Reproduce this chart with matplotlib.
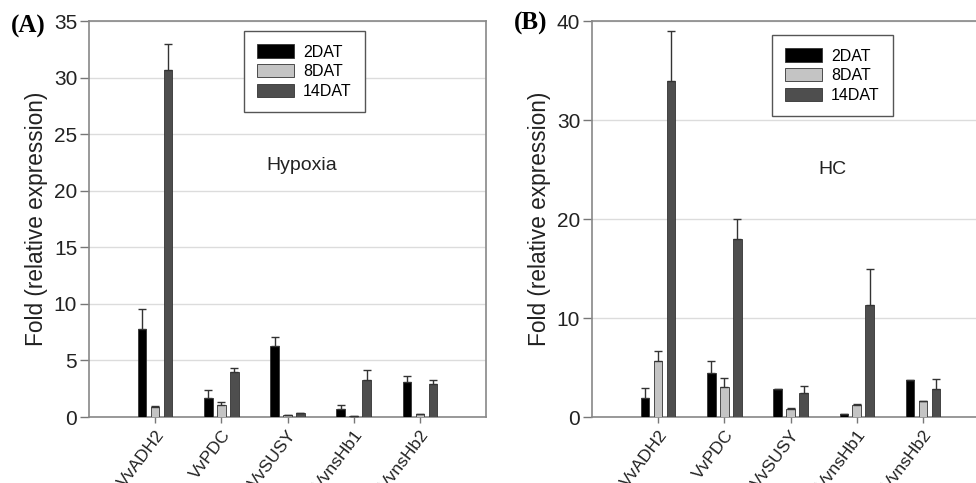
import matplotlib
matplotlib.use("Agg")
import matplotlib.pyplot as plt
import numpy as np

plt.rcParams["font.family"] = ["Liberation Sans", "DejaVu Sans"]

genes = ["VvADH2", "VvPDC", "VvSUSY", "VvnsHb1", "VvnsHb2"]
series = ["2DAT", "8DAT", "14DAT"]

# Panel A: Hypoxia
hyp_2 = [7.75, 1.65, 6.3, 0.75, 3.1]
hyp_2_err = [1.8, 0.75, 0.75, 0.35, 0.5]
hyp_8 = [0.9, 1.05, 0.15, 0.08, 0.25]
hyp_8_err = [0.1, 0.3, 0.05, 0.02, 0.05]
hyp_14 = [30.7, 4.0, 0.32, 3.3, 2.95]
hyp_14_err = [2.3, 0.35, 0.04, 0.85, 0.35]

# Panel B: HC
hc_2 = [1.9, 4.45, 2.8, 0.27, 3.7]
hc_2_err = [1.05, 1.25, 0.0, 0.0, 0.0]
hc_8 = [5.65, 3.05, 0.85, 1.17, 1.58]
hc_8_err = [1.0, 0.9, 0.1, 0.1, 0.0]
hc_14 = [33.9, 17.95, 2.45, 11.3, 2.85]
hc_14_err = [5.1, 2.1, 0.67, 3.65, 1.0]

colors = ["#000000", "#c4c4c4", "#4e4e4e"]

fig = plt.figure(figsize=(9.76, 4.83), dpi=100)

def panel(ax, data, errs, ymax, ystep, note, note_xy, leg_bbox, letter, letter_xy):
    x = np.arange(len(genes))
    w = 0.128
    off = 0.196
    for i, (vals, er, c) in enumerate(zip(data, errs, colors)):
        pos = x + (i - 1) * off
        ax.bar(pos, vals, width=w, color=c, edgecolor="#333333", linewidth=0.6,
               label=series[i], zorder=3)
        ax.errorbar(pos, vals, yerr=[np.zeros(len(vals)), er], fmt="none",
                    ecolor="#333333", elinewidth=1.0, capsize=3, capthick=1.0, zorder=4)
    ax.set_xlim(-1.0, 5.0)
    ax.set_ylim(0, ymax)
    ax.set_yticks(np.arange(0, ymax + 0.1, ystep))
    ax.set_xticks(x)
    ax.set_xticklabels(genes, rotation=53, ha="right", rotation_mode="anchor",
                       fontsize=12.5, color="#222222")
    ax.tick_params(axis="x", length=4.5, width=1, color="#777777", pad=3)
    ax.tick_params(axis="y", length=6.5, width=1, color="#777777", labelsize=15,
                   labelcolor="#222222", pad=2)
    ax.yaxis.grid(True, color="#dcdcdc", linewidth=1.0, zorder=0)
    ax.set_axisbelow(True)
    for s in ax.spines.values():
        s.set_color("#888888")
        s.set_linewidth(1.2)
    ax.set_ylabel("Fold (relative expression)", fontsize=16.3, color="#222222",
                  labelpad=4)
    ax.text(note_xy[0], note_xy[1], note, transform=ax.transAxes, fontsize=14,
            ha="center", va="center", color="#222222")
    leg = ax.legend(loc="upper left", bbox_to_anchor=leg_bbox,
                    prop={"size": 11.5},
                    fancybox=False, edgecolor="#555555", framealpha=1,
                    handlelength=2.3, handleheight=0.9, labelspacing=0.28,
                    borderpad=0.85, handletextpad=0.55, borderaxespad=0)
    leg.get_frame().set_linewidth(1.0)
    fig.text(letter_xy[0], letter_xy[1], letter, fontsize=18, fontweight="bold",
             family=["Liberation Serif", "DejaVu Serif"], ha="left", va="center")

axA = fig.add_axes([0.0912, 0.1366, 0.4068, 0.8199])
panel(axA, [hyp_2, hyp_8, hyp_14], [hyp_2_err, hyp_8_err, hyp_14_err], 35, 5,
      "Hypoxia", (0.537, 0.636), (0.39, 0.975), "(A)", (0.011, 0.945))

axB = fig.add_axes([0.6066, 0.1366, 0.4068, 0.8199])
panel(axB, [hc_2, hc_8, hc_14], [hc_2_err, hc_8_err, hc_14_err], 40, 10,
      "HC", (0.605, 0.624), (0.453, 0.965), "(B)", (0.527, 0.952))

fig.savefig("out.png", dpi=100)
